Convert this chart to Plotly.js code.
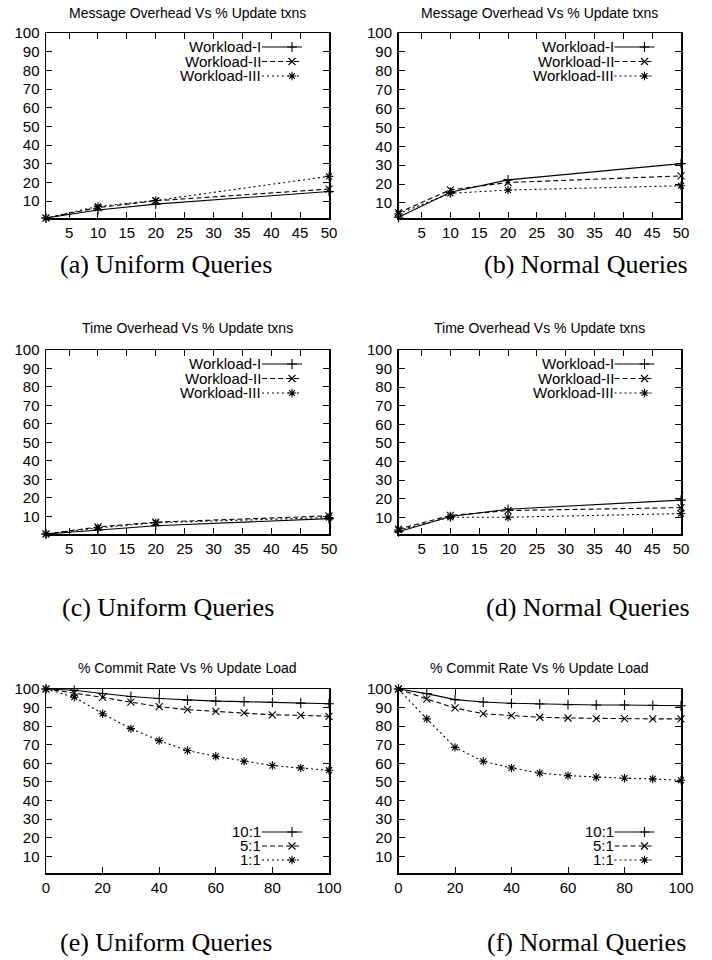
<!DOCTYPE html>
<html><head><meta charset="utf-8">
<script src="https://cdn.plot.ly/plotly-3.0.1.min.js"></script>
<style>html,body{margin:0;padding:0;background:#fff}#chart{width:712px;height:960px}</style>
</head><body><div id="chart"></div>
<script>
// ---- data ----
const updPct = [1, 10, 20, 50];
const msgUniW1 = [1, 5.3, 8.4, 15.2];
const msgUniW2 = [1, 6.6, 10.2, 16.5];
const msgUniW3 = [1, 7.2, 10.4, 23.3];
const msgNormW1 = [2.4, 15.6, 22.2, 30.8];
const msgNormW2 = [4.8, 16.9, 20.8, 24.3];
const msgNormW3 = [4.2, 15.1, 16.8, 19.1];
const timeUniW1 = [0.5, 2.7, 5.0, 8.8];
const timeUniW2 = [0.5, 4.3, 6.9, 10.3];
const timeUniW3 = [0.5, 3.8, 6.6, 9.4];
const timeNormW1 = [2.2, 10.4, 14.3, 19.2];
const timeNormW2 = [3.6, 11.0, 13.6, 15.2];
const timeNormW3 = [3.1, 10.0, 10.0, 12.0];
const loadPct = [0, 10, 20, 30, 40, 50, 60, 70, 80, 90, 100];
const cmtUni10 = [100, 99.3, 97.6, 96.0, 94.9, 94.0, 93.5, 93.2, 92.8, 92.4, 92.1];
const cmtUni5 = [100, 97.9, 95.5, 92.9, 90.5, 88.9, 88.0, 87.1, 86.1, 85.8, 85.3];
const cmtUni1 = [100, 95.6, 86.7, 78.7, 72.2, 66.9, 63.8, 61.1, 58.8, 57.5, 56.3];
const cmtNorm10 = [100, 97.5, 94.3, 93.0, 92.3, 91.9, 91.6, 91.4, 91.4, 91.2, 91.0];
const cmtNorm5 = [100, 94.6, 89.8, 86.7, 85.7, 84.8, 84.4, 84.1, 84.1, 83.9, 83.9];
const cmtNorm1 = [100, 83.9, 68.6, 61.1, 57.5, 54.8, 53.4, 52.5, 52.0, 51.6, 50.9];
const wlNames = ["Workload-I", "Workload-II", "Workload-III"];
const ratioNames = ["10:1", "5:1", "1:1"];
const titles = ["Message Overhead Vs % Update txns", "Message Overhead Vs % Update txns",
  "Time Overhead Vs % Update txns", "Time Overhead Vs % Update txns",
  "% Commit Rate Vs % Update Load", "% Commit Rate Vs % Update Load"];
const captions = ["(a) Uniform Queries", "(b) Normal Queries", "(c) Uniform Queries",
  "(d) Normal Queries", "(e) Uniform Queries", "(f) Normal Queries"];
const updTicks = [5, 10, 15, 20, 25, 30, 35, 40, 45, 50];
const loadTicks = [0, 20, 40, 60, 80, 100];
const yTicks = [10, 20, 30, 40, 50, 60, 70, 80, 90, 100];

// ---- styles ----
const W = 712, H = 960;
const SANS = "Liberation Sans, Arial, sans-serif";
const styles = [
  {dash: "solid", symbol: "cross-thin-open"},
  {dash: "5px,3px", symbol: "x-thin-open"},
  {dash: "2px,3px", symbol: "asterisk-open"}
];
const colL = [46, 329], colR = [398.5, 681];
const rows = [[33, 218], [350, 534], [689, 873]];
const yMins = [1, 2, 0.5, 1, 1, 1];

const panels = [
  {x: updPct, ys: [msgUniW1, msgUniW2, msgUniW3], names: wlNames},
  {x: updPct, ys: [msgNormW1, msgNormW2, msgNormW3], names: wlNames},
  {x: updPct, ys: [timeUniW1, timeUniW2, timeUniW3], names: wlNames},
  {x: updPct, ys: [timeNormW1, timeNormW2, timeNormW3], names: wlNames},
  {x: loadPct, ys: [cmtUni10, cmtUni5, cmtUni1], names: ratioNames},
  {x: loadPct, ys: [cmtNorm10, cmtNorm5, cmtNorm1], names: ratioNames}
];

const traces = [];
const layout = {
  width: W, height: H, margin: {l: 0, r: 0, t: 0, b: 0},
  paper_bgcolor: "#fff", plot_bgcolor: "#fff",
  font: {family: SANS, size: 15, color: "#000"},
  annotations: [], showlegend: true
};
const capX = [166, 586, 168, 588, 166, 586];
const capY = [264, 264, 607, 607, 942, 942];
const titleY = [13, 13, 328, 328, 668, 668];

// key entry positions (gnuplot style: label right-aligned, sample on its right)
function keyPos(i, j) {
  const col = i % 2 === 0 ? colL : colR;
  const row = rows[Math.floor(i / 2)];
  return {x: col[0] + 216, y: i >= 4 ? row[1] - 41 + j * 14 : row[0] + 14 + j * 14.5};
}

panels.forEach((p, i) => {
  const k = i + 1;
  const sfx = k === 1 ? "" : String(k);
  const col = i % 2 === 0 ? colL : colR;
  const row = rows[Math.floor(i / 2)];
  const lg = k === 1 ? "legend" : "legend" + k;
  p.ys.forEach((y, j) => {
    traces.push({
      type: "scatter", mode: "lines+markers", x: p.x, y: y, name: "",
      xaxis: "x" + sfx, yaxis: "y" + sfx, legend: lg, cliponaxis: false,
      line: {color: "#000", width: 1.1, dash: styles[j].dash},
      marker: {symbol: styles[j].symbol, size: 7, color: "#000", line: {color: "#000", width: 1.1}}
    });
    const kp = keyPos(i, j);
    layout.annotations.push({
      xref: "paper", yref: "paper", x: kp.x / W, y: 1 - kp.y / H,
      xanchor: "right", yanchor: "middle", showarrow: false, text: p.names[j],
      font: {family: SANS, size: 15, color: "#000"}, borderpad: 0, height: 13.5
    });
  });
  const isLoad = i >= 4;
  const axCommon = {
    ticks: "inside", ticklen: 6, tickwidth: 1, tickcolor: "#000",
    showline: true, linecolor: "#000", linewidth: 1.5, mirror: "ticks",
    showgrid: false, zeroline: false, tickfont: {family: SANS, size: 15, color: "#000"}
  };
  layout["xaxis" + sfx] = Object.assign({
    domain: [col[0] / W, col[1] / W], anchor: "y" + sfx,
    range: isLoad ? [0, 100] : [1, 50],
    tickmode: "array", tickvals: isLoad ? loadTicks : updTicks
  }, axCommon);
  layout["yaxis" + sfx] = Object.assign({
    domain: [1 - row[1] / H, 1 - row[0] / H], anchor: "x" + sfx,
    range: [yMins[i], 100], ticklabelstandoff: 2,
    tickmode: "array", tickvals: yTicks
  }, axCommon);
  layout[lg] = {
    x: (col[0] + 200) / W, xanchor: "right", y: 1 - (row[0] + 40) / H, yanchor: "top",
    bgcolor: "rgba(0,0,0,0)", borderwidth: 0, font: {family: SANS, size: 15, color: "#000"},
    tracegroupgap: 0, itemwidth: 30
  };
  layout.annotations.push({
    xref: "paper", yref: "paper", x: (col[0] + col[1]) / 2 / W, y: 1 - titleY[i] / H,
    xanchor: "center", yanchor: "middle", showarrow: false, text: titles[i],
    font: {family: SANS, size: 14, color: "#000"}
  });
  layout.annotations.push({
    xref: "paper", yref: "paper", x: capX[i] / W, y: 1 - capY[i] / H,
    xanchor: "center", yanchor: "middle", showarrow: false, text: captions[i],
    font: {family: "Liberation Serif, serif", size: 26, color: "#000"}
  });
});

// move the legend samples next to their labels
function gnuplotKeys() {
  const gd = document.getElementById("chart");
  panels.forEach((p, i) => {
    const lgId = i === 0 ? "legend" : "legend" + (i + 1);
    gd.querySelectorAll("g." + lgId).forEach(lg => {
      lg.setAttribute("transform", "translate(0,0)");
      lg.removeAttribute("clip-path");
      lg.querySelectorAll("[clip-path]").forEach(e => e.removeAttribute("clip-path"));
      lg.querySelectorAll("g.scrollbox").forEach(e => e.setAttribute("transform", "translate(0,0)"));
      lg.querySelectorAll("rect.bg, rect.scrollbar").forEach(e => e.setAttribute("display", "none"));
      lg.querySelectorAll("text.legendtext").forEach(t => t.setAttribute("display", "none"));
      lg.querySelectorAll("g.traces").forEach((it, j) => {
        const kp = keyPos(i, j);
        it.setAttribute("transform", "translate(" + kp.x + "," + kp.y + ")");
        it.querySelectorAll("g.legendpoints").forEach(e => e.setAttribute("transform", "translate(10,0)"));
        it.querySelectorAll("g.legendlines path").forEach(e => e.setAttribute("d", "M0,0h40"));
      });
    });
  });
}

Plotly.newPlot("chart", traces, layout, {displayModeBar: false, staticPlot: true}).then(() => {
  gnuplotKeys();
  requestAnimationFrame(gnuplotKeys);
  [0, 50, 200, 500].forEach(ms => setTimeout(gnuplotKeys, ms));
});
</script></body></html>
